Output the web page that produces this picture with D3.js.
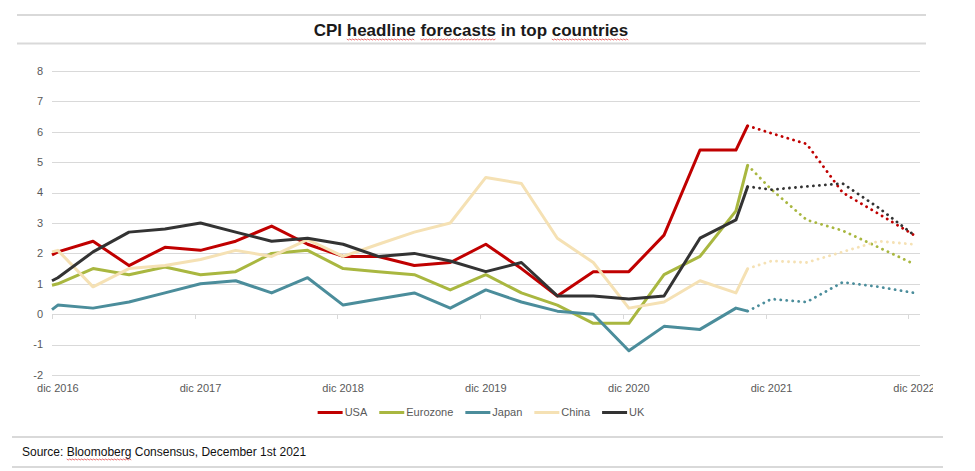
<!DOCTYPE html>
<html>
<head>
<meta charset="utf-8">
<script src="https://cdn.jsdelivr.net/npm/d3@7"></script>
<style>
  body { margin: 0; background: #fff; }
  svg { display: block; font-family: "Liberation Sans", Arial, sans-serif; }
</style>
</head>
<body>
<div id="chart"></div>
<script>
// series names and colours
var seriesNames = ["USA", "Eurozone", "Japan", "China", "UK"];
var seriesColors = ["#c00000", "#a9b740", "#4b8d9b", "#f5e1b4", "#333333"];

// actual data (mid-month points)
var histDates = ["2016-12-01", "2016-12-16", "2017-03-16", "2017-06-16", "2017-09-16", "2017-12-16",
  "2018-03-16", "2018-06-16", "2018-09-16", "2018-12-16", "2019-03-16", "2019-06-16", "2019-09-16",
  "2019-12-16", "2020-03-16", "2020-06-16", "2020-09-16", "2020-12-16", "2021-03-16", "2021-06-16",
  "2021-09-16", "2021-10-16"];
var usaHist      = [1.95, 2.05, 2.4, 1.6, 2.2, 2.1, 2.4, 2.9, 2.3, 1.9, 1.9, 1.6, 1.7, 2.3, 1.5, 0.6, 1.4, 1.4, 2.6, 5.4, 5.4, 6.2];
var eurozoneHist = [0.95, 1.0, 1.5, 1.3, 1.55, 1.3, 1.4, 2.0, 2.1, 1.5, 1.4, 1.3, 0.8, 1.3, 0.7, 0.3, -0.3, -0.3, 1.3, 1.9, 3.4, 4.9];
var japanHist    = [0.15, 0.3, 0.2, 0.4, 0.7, 1.0, 1.1, 0.7, 1.2, 0.3, 0.5, 0.7, 0.2, 0.8, 0.4, 0.1, 0.0, -1.2, -0.4, -0.5, 0.2, 0.1];
var chinaHist    = [2.05, 2.1, 0.9, 1.5, 1.6, 1.8, 2.1, 1.9, 2.45, 1.9, 2.3, 2.7, 3.0, 4.5, 4.3, 2.5, 1.7, 0.2, 0.4, 1.1, 0.7, 1.5];
var ukHist       = [1.1, 1.2, 2.05, 2.7, 2.8, 3.0, 2.7, 2.4, 2.5, 2.3, 1.9, 2.0, 1.75, 1.4, 1.7, 0.6, 0.6, 0.5, 0.6, 2.5, 3.1, 4.2];

// forecasts (dotted)
var forecastDates = ["2021-10-16", "2021-12-16", "2022-03-16", "2022-06-16", "2022-09-16", "2022-12-16"];
var usaFcst      = [6.2, 5.95, 5.6, 4.0, 3.3, 2.6];
var eurozoneFcst = [4.9, 4.1, 3.1, 2.75, 2.2, 1.65];
var japanFcst    = [0.1, 0.5, 0.4, 1.05, 0.9, 0.7];
var chinaFcst    = [1.5, 1.75, 1.7, 2.05, 2.4, 2.3];
var ukFcst       = [4.2, 4.1, 4.2, 4.3, 3.5, 2.6];

// axes
var yTicks = [-2, -1, 0, 1, 2, 3, 4, 5, 6, 7, 8];
var xTickDates = ["2016-12-01", "2017-12-01", "2018-12-01", "2019-12-01", "2020-12-01", "2021-12-01", "2022-12-01"];
var xTickLabels = ["dic 2016", "dic 2017", "dic 2018", "dic 2019", "dic 2020", "dic 2021", "dic 2022"];

var titleText = "CPI headline forecasts in top countries";
var sourceText = "Source: Bloomoberg Consensus, December 1st 2021";

var width = 975, height = 471;
var parse = d3.timeParse("%Y-%m-%d");

var svg = d3.select("#chart").append("svg")
  .attr("width", width)
  .attr("height", height);

svg.append("rect").attr("width", width).attr("height", height).attr("fill", "#fff");

var x = d3.scaleTime()
  .domain([parse("2016-12-01"), parse("2022-12-01")])
  .range([52, 908.3]);
var y = d3.scaleLinear()
  .domain([-2, 8])
  .range([375, 71]);

var gridRight = 920;

// header / footer rules
var rules = [[17, 926, 15], [17, 926, 43.5], [12, 943, 437], [12, 943, 467]];
svg.selectAll("line.rule").data(rules).enter().append("line")
  .attr("class", "rule")
  .attr("x1", function(d) { return d[0]; })
  .attr("x2", function(d) { return d[1]; })
  .attr("y1", function(d) { return d[2]; })
  .attr("y2", function(d) { return d[2]; })
  .attr("stroke", "#d9d9d9")
  .attr("stroke-width", 2);

// spell-check squiggle under some words
function squiggle(textSel, words) {
  var node = textSel.node();
  var str = textSel.text();
  words.forEach(function(w) {
    var i = str.indexOf(w);
    if (i < 0) return;
    var x0 = node.getStartPositionOfChar(i).x;
    var len = node.getSubStringLength(i, w.length);
    var yb = node.getStartPositionOfChar(i).y + 3;
    var pts = [];
    for (var k = 0; x0 + k * 1.5 <= x0 + len; k++) {
      pts.push([x0 + k * 1.5, yb + (k % 2 ? 1 : 0)]);
    }
    svg.append("path")
      .attr("d", d3.line()(pts))
      .attr("fill", "none")
      .attr("stroke", "#e03030")
      .attr("stroke-width", 0.7);
  });
}

// title
var title = svg.append("text")
  .attr("x", 471)
  .attr("y", 36)
  .attr("text-anchor", "middle")
  .attr("font-size", 17)
  .attr("font-weight", "bold")
  .attr("fill", "#1a1a1a")
  .text(titleText);
squiggle(title, ["headline", "forecasts", "countries"]);

// gridlines
svg.append("g").selectAll("line").data(yTicks).enter().append("line")
  .attr("x1", x.range()[0])
  .attr("x2", gridRight)
  .attr("y1", function(d) { return Math.round(y(d)) + 0.5; })
  .attr("y2", function(d) { return Math.round(y(d)) + 0.5; })
  .attr("stroke", "#d9d9d9")
  .attr("stroke-width", 1);

// y labels
svg.append("g").selectAll("text").data(yTicks).enter().append("text")
  .attr("x", 43)
  .attr("y", function(d) { return y(d); })
  .attr("dy", "0.35em")
  .attr("text-anchor", "end")
  .attr("font-size", 11)
  .attr("fill", "#595959")
  .text(function(d) { return d; });

// x ticks on zero line
var xTicks = xTickDates.map(parse);
svg.append("g").selectAll("line").data(xTicks).enter().append("line")
  .attr("x1", function(d) { return Math.round(x(d)) + 0.5; })
  .attr("x2", function(d) { return Math.round(x(d)) + 0.5; })
  .attr("y1", Math.round(y(0)))
  .attr("y2", Math.round(y(0)) + 5)
  .attr("stroke", "#d9d9d9");

// x labels (centred on the month), clipped at the right like the source
svg.append("clipPath").attr("id", "lblclip")
  .append("rect").attr("x", 0).attr("y", 0).attr("width", 933).attr("height", height);
svg.append("g").attr("clip-path", "url(#lblclip)")
  .selectAll("text").data(xTicks).enter().append("text")
  .attr("x", function(d) { return x(d3.timeDay.offset(d, 15)); })
  .attr("y", 392)
  .attr("text-anchor", "middle")
  .attr("font-size", 11)
  .attr("fill", "#595959")
  .text(function(d, i) { return xTickLabels[i]; });

// lines
var hist = [usaHist, eurozoneHist, japanHist, chinaHist, ukHist];
var fcst = [usaFcst, eurozoneFcst, japanFcst, chinaFcst, ukFcst];
var hDates = histDates.map(parse);
var fDates = forecastDates.map(parse);

var line = d3.line()
  .x(function(d) { return x(d[0]); })
  .y(function(d) { return y(d[1]); });

var lines = svg.append("g");
seriesNames.forEach(function(name, s) {
  lines.append("path")
    .datum(hDates.map(function(dt, i) { return [dt, hist[s][i]]; }))
    .attr("d", line)
    .attr("fill", "none")
    .attr("stroke", seriesColors[s])
    .attr("stroke-width", 3)
    .attr("stroke-linejoin", "round");
});
seriesNames.forEach(function(name, s) {
  lines.append("path")
    .datum(fDates.map(function(dt, i) { return [dt, fcst[s][i]]; }))
    .attr("d", line)
    .attr("fill", "none")
    .attr("stroke", seriesColors[s])
    .attr("stroke-width", 2.8)
    .attr("stroke-linecap", "round")
    .attr("stroke-dasharray", "0.1 5.9");
});

// legend
var legend = svg.append("g");
var lx = 0;
seriesNames.forEach(function(name, s) {
  var g = legend.append("g").attr("transform", "translate(" + lx + ",0)");
  g.append("line")
    .attr("x1", 0).attr("x2", 25)
    .attr("y1", 0).attr("y2", 0)
    .attr("stroke", seriesColors[s])
    .attr("stroke-width", 3);
  var t = g.append("text")
    .attr("x", 27)
    .attr("dy", "0.35em")
    .attr("font-size", 11)
    .attr("fill", "#595959")
    .text(name);
  lx += 27 + t.node().getComputedTextLength() + 12;
});
lx -= 12;
legend.attr("transform", "translate(" + (481 - lx / 2) + ",412.5)");

// source
var source = svg.append("text")
  .attr("x", 22)
  .attr("y", 456)
  .attr("font-size", 12)
  .attr("fill", "#111")
  .text(sourceText);
squiggle(source, ["Bloomoberg"]);
</script>
</body>
</html>
